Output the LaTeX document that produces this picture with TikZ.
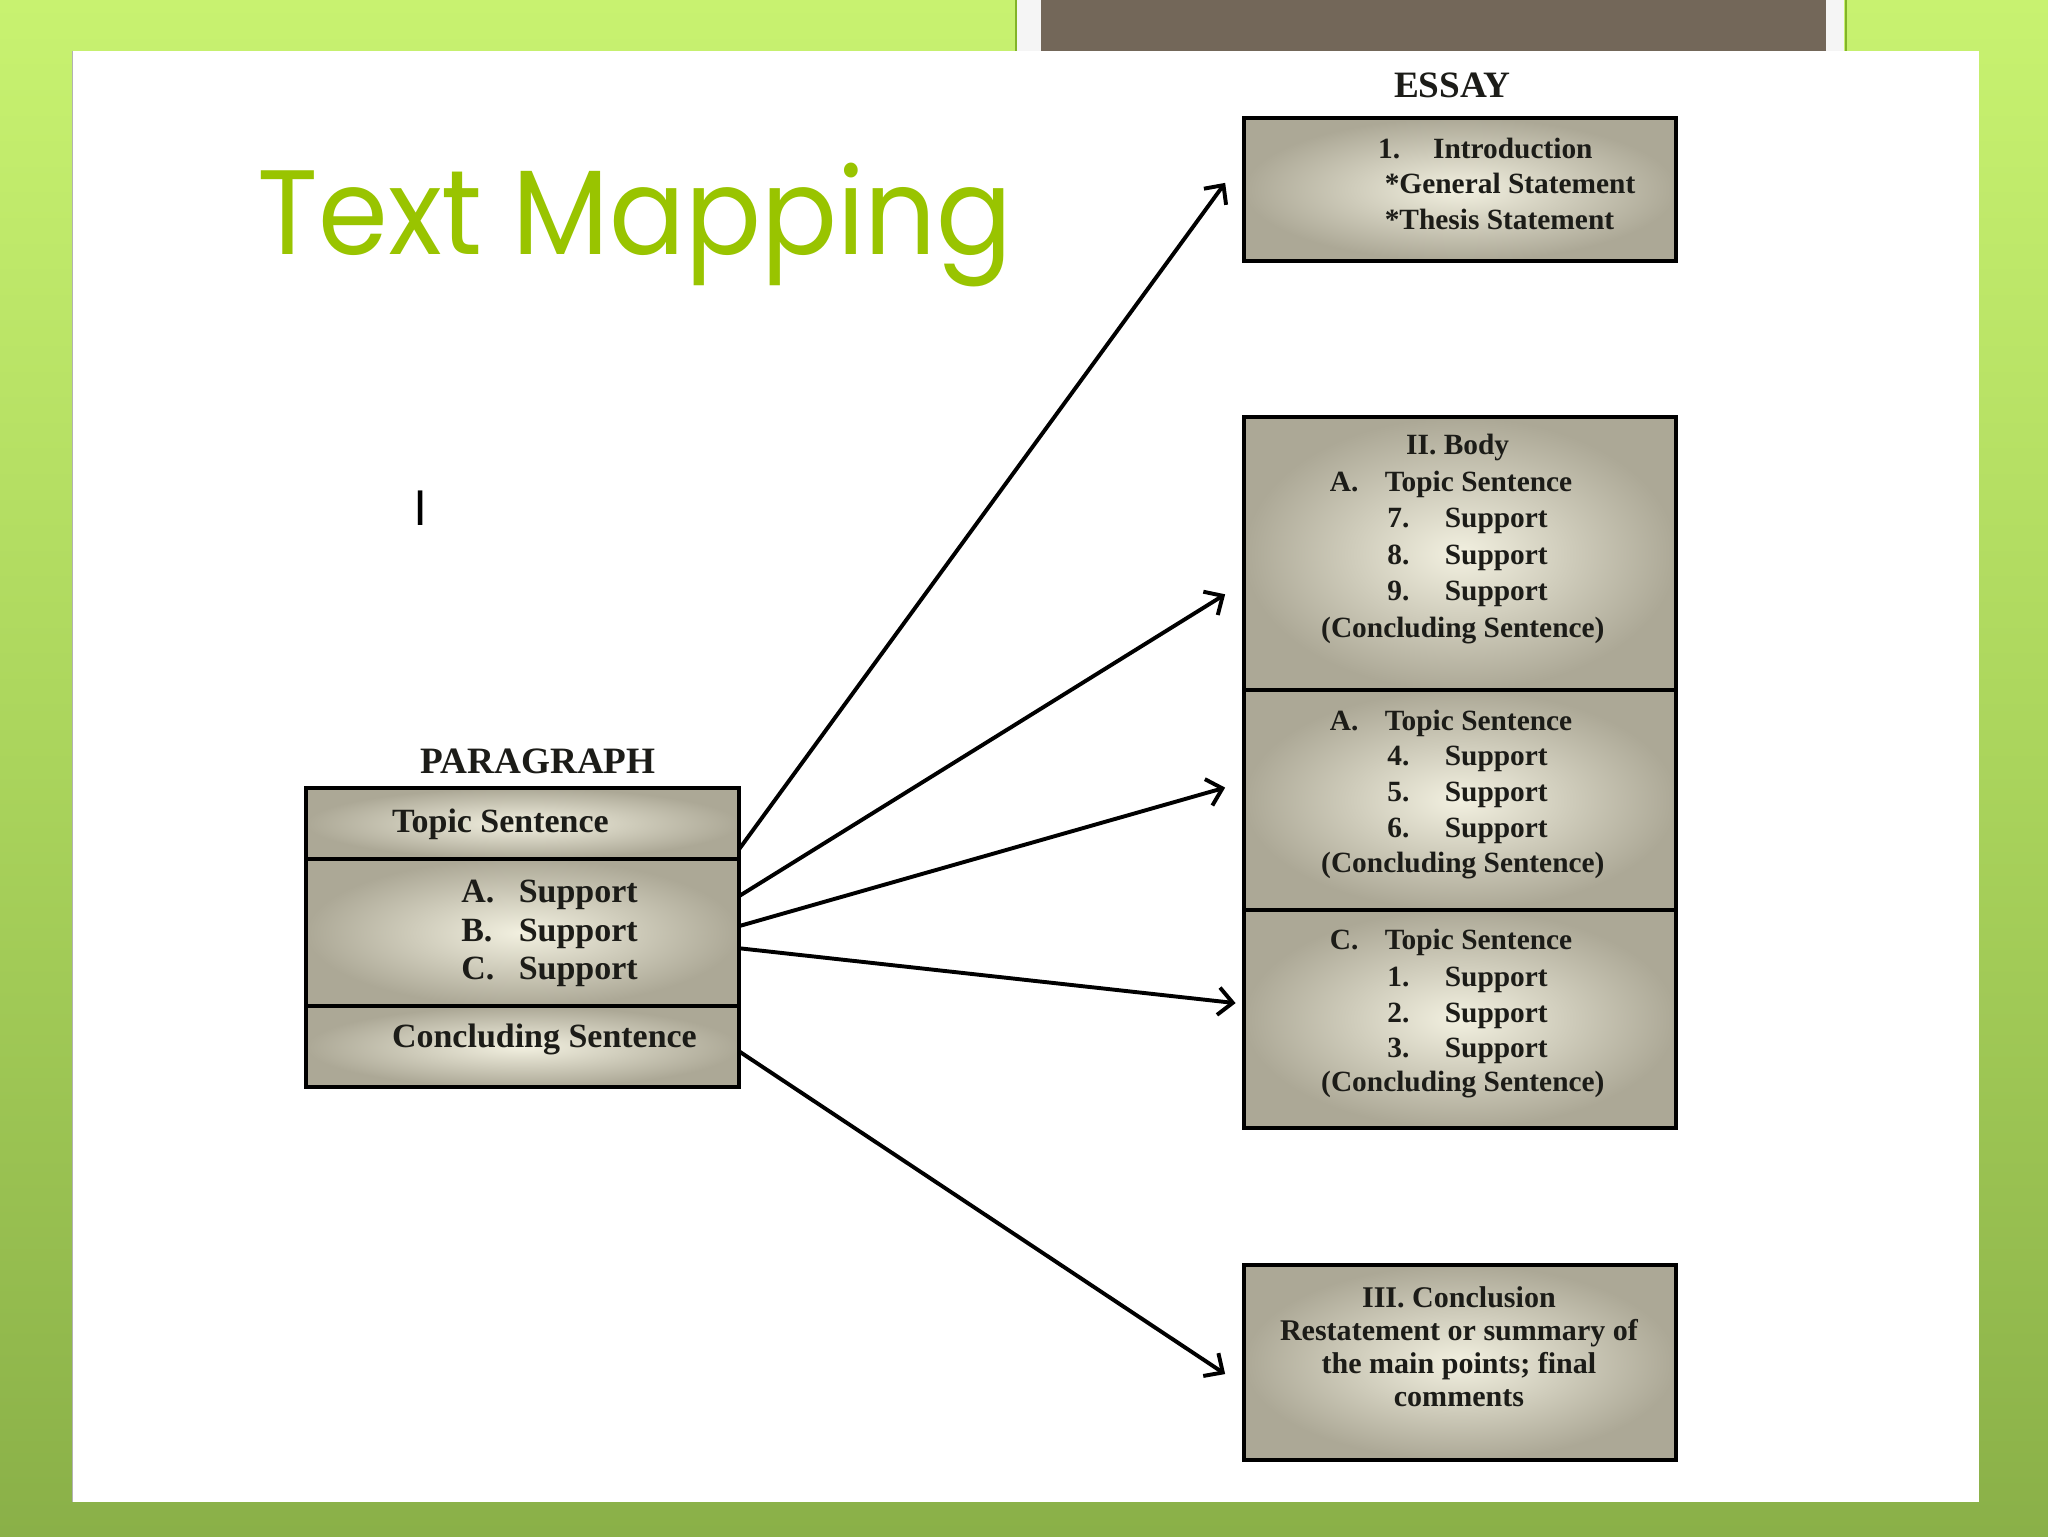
\documentclass[tikz,border=0pt]{standalone}
\usepackage{fontspec}
\setmainfont{Liberation Serif}
\newfontfamily\titlefont{Poppins}
\usetikzlibrary{arrows.meta}
\definecolor{bgtop}{RGB}{200,242,112}
\definecolor{bgmid}{RGB}{170,212,92}
\definecolor{bgbot}{RGB}{138,176,72}
\definecolor{topbrown}{RGB}{115,103,89}
\definecolor{edgegreen}{RGB}{130,180,40}
\definecolor{titlegreen}{RGB}{153,196,0}
\definecolor{boxin}{RGB}{242,240,224}
\definecolor{boxout}{RGB}{172,168,150}
\definecolor{txtcol}{RGB}{28,28,24}
\tikzset{
  sbox/.style={draw=black, line width=3pt, shading=radial, inner color=boxin, outer color=boxout, anchor=north west, inner sep=0pt},
  etxt/.style={font=\bfseries\fontsize{22.5}{27}\selectfont, text=txtcol, inner sep=0pt, anchor=base west},
  ptxt/.style={font=\bfseries\fontsize{26}{30}\selectfont, text=txtcol, inner sep=0pt, anchor=base west},
  head/.style={font=\bfseries\fontsize{28.5}{32}\selectfont, text=txtcol, inner sep=0pt, anchor=base},
  arr/.style={line width=3pt, -{Straight Barb[length=11pt,width=21pt,line width=3pt]}}
}
\newcommand\ebl[4]{\node[etxt] (#1) at (#2,#3) {#4};}
\begin{document}
\begin{tikzpicture}[x=1pt,y=-1pt]
\useasboundingbox (0,0) rectangle (1568,1176);
% background
\shade[top color=bgtop, bottom color=bgbot, middle color=bgmid] (0,0) rectangle (1568,1176);
\fill[white] (55,39) rectangle (1515,1150);
\draw[black!30, line width=1.5pt] (55.5,39) -- (55.5,1150);
\fill[white!92!gray] (779,0) rectangle (1412,39);
\fill[topbrown] (797,0) rectangle (1398,39);
\draw[edgegreen, line width=1.5pt] (778,0) -- (778,39) (1413,0) -- (1413,39);
% title
\node[font=\titlefont\fontsize{92}{100}\selectfont, text=titlegreen, inner sep=0pt, anchor=base west] (title) at (197,195) {\scalebox{0.935}[1]{Text Mapping}};
\node[font=\titlefont\fontsize{38}{40}\selectfont, text=black, inner sep=0pt, anchor=base] (cursor) at (322,402) {I};
% paragraph
\node[head] (parhead) at (412,592) {PARAGRAPH};
\node[sbox, minimum width=331pt, minimum height=54pt] (ptop) at (233,602) {};
\node[sbox, minimum width=331pt, minimum height=113pt] (pmid) at (233,656) {};
\node[sbox, minimum width=331pt, minimum height=62pt] (pbot) at (233,769) {};
\node[ptxt] (pt) at (300,637) {Topic Sentence};
\node[ptxt] (pa) at (353,691) {A.};
\node[ptxt] (pas) at (397,691) {Support};
\node[ptxt] (pb) at (353,721) {B.};
\node[ptxt] (pbs) at (397,721) {Support};
\node[ptxt] (pc) at (353,750) {C.};
\node[ptxt] (pcs) at (397,750) {Support};
\node[ptxt] (pcon) at (300,802) {Concluding Sentence};
% essay
\node[head] (esshead) at (1112,75) {ESSAY};
\node[sbox, minimum width=331pt, minimum height=109pt] (intro) at (951,89) {};
\ebl{i1}{1055}{121}{1.}
\ebl{i1t}{1097}{121}{Introduction}
\ebl{i2}{1060}{148}{*General Statement}
\ebl{i3}{1060}{176}{*Thesis Statement}
\node[sbox, minimum width=331pt, minimum height=209pt] (body1) at (951,318) {};
\node[sbox, minimum width=331pt, minimum height=168pt] (body2) at (951,527) {};
\node[sbox, minimum width=331pt, minimum height=167pt] (body3) at (951,695) {};
\node[etxt, anchor=base] (bh) at (1116,348) {II. Body};
\ebl{b1a}{1018}{376}{A.}
\ebl{b1t}{1060}{376}{Topic Sentence}
\ebl{b17}{1062}{404}{7.}
\ebl{b17s}{1106}{404}{Support}
\ebl{b18}{1062}{432}{8.}
\ebl{b18s}{1106}{432}{Support}
\ebl{b19}{1062}{460}{9.}
\ebl{b19s}{1106}{460}{Support}
\node[etxt, anchor=base] (b1c) at (1120,488) {(Concluding Sentence)};
\ebl{b2a}{1018}{559}{A.}
\ebl{b2t}{1060}{559}{Topic Sentence}
\ebl{b24}{1062}{586}{4.}
\ebl{b24s}{1106}{586}{Support}
\ebl{b25}{1062}{614}{5.}
\ebl{b25s}{1106}{614}{Support}
\ebl{b26}{1062}{641}{6.}
\ebl{b26s}{1106}{641}{Support}
\node[etxt, anchor=base] (b2c) at (1120,668) {(Concluding Sentence)};
\ebl{b3a}{1018}{727}{C.}
\ebl{b3t}{1060}{727}{Topic Sentence}
\ebl{b31}{1062}{755}{1.}
\ebl{b31s}{1106}{755}{Support}
\ebl{b32}{1062}{783}{2.}
\ebl{b32s}{1106}{783}{Support}
\ebl{b33}{1062}{810}{3.}
\ebl{b33s}{1106}{810}{Support}
\node[etxt, anchor=base] (b3c) at (1120,836) {(Concluding Sentence)};
\node[sbox, minimum width=331pt, minimum height=149pt] (concl) at (951,967) {};
\node[etxt, anchor=base, align=center, font=\bfseries\fontsize{23}{25.2}\selectfont] (ct) at (1117,1077) {III. Conclusion\\Restatement or summary of\\the main points; final\\comments};
% arrows
\coordinate (s1) at (566,650);
\coordinate (s2) at (566,686);
\coordinate (s3) at (566,709);
\coordinate (s4) at (566,726);
\coordinate (s5) at (566,805);
\coordinate (e1) at (938,140);
\coordinate (e2) at (938,455);
\coordinate (e3) at (938,603);
\coordinate (e4) at (946,768);
\coordinate (e5) at (938,1052);
\draw[arr] (s1) -- (e1);
\draw[arr] (s2) -- (e2);
\draw[arr] (s3) -- (e3);
\draw[arr] (s4) -- (e4);
\draw[arr] (s5) -- (e5);
\end{tikzpicture}
\end{document}
